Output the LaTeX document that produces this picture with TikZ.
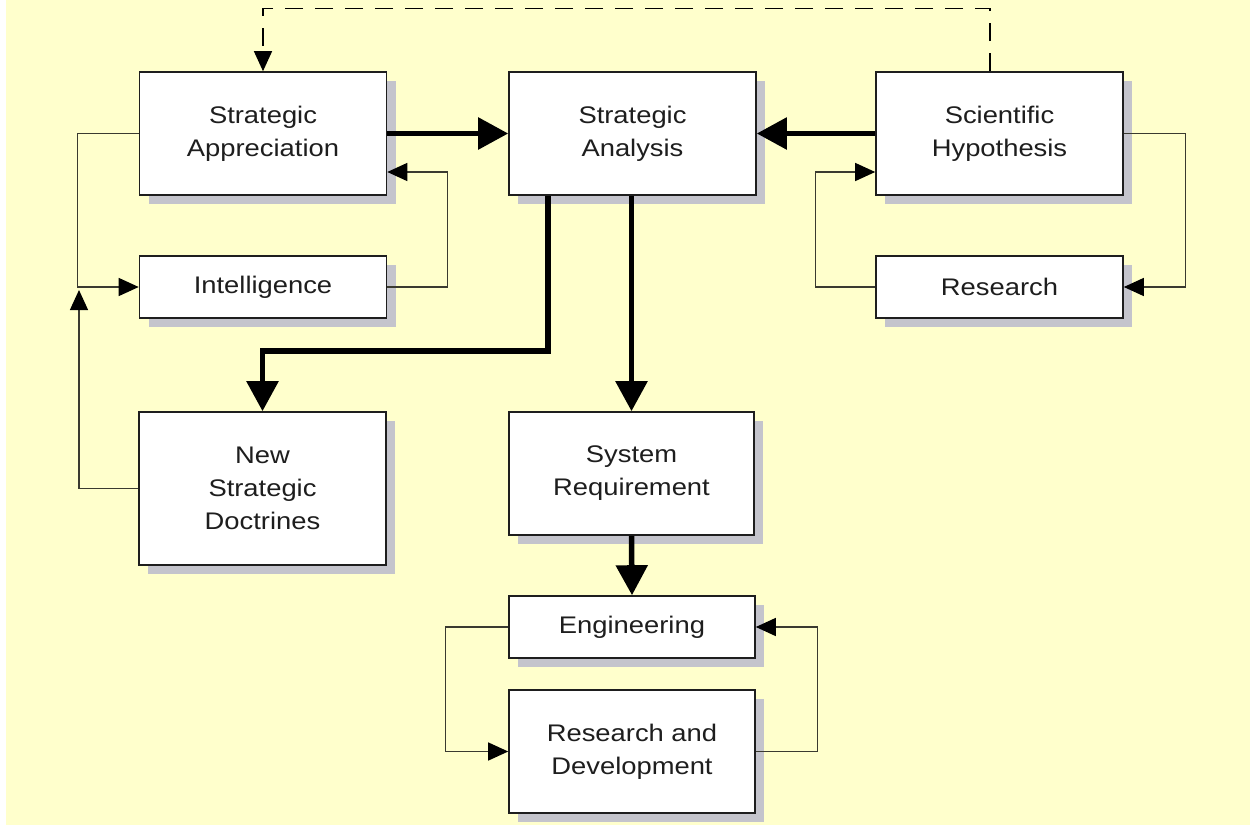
\documentclass[tikz,border=0pt]{standalone}
\usepackage{fontspec}
\setmainfont[FakeStretch=1.14]{Liberation Sans}
\usetikzlibrary{arrows.meta,shadows}

\definecolor{paper}{HTML}{FFFFCC}
\definecolor{shade}{HTML}{C4C4CC}
\definecolor{ink}{HTML}{1E1E1E}
\definecolor{wire}{HTML}{3A3A30}

\tikzset{
  box/.style={draw=ink, line width=1.6pt, fill=white, inner sep=0pt,
    align=center, text=ink, font=\fontsize{24}{33}\selectfont,
    drop shadow={shadow xshift=9pt, shadow yshift=-9pt, fill=shade, opacity=1}},
  tall/.style={box, minimum width=247pt, minimum height=123pt},
  flat/.style={box, minimum width=247pt, minimum height=62pt},
  heavy/.style={draw=black, line width=5.5pt,
    -{Triangle[length=30pt,width=31pt]}},
  light/.style={draw=wire, line width=1.3pt,
    -{Triangle[length=20pt,width=18pt,color=black]}},
  dashlink/.style={light, draw=black, dash pattern=on 18pt off 12pt}
}

\begin{document}
\begin{tikzpicture}[x=1pt,y=-1pt]
  % page and its background
  \useasboundingbox (0,0) rectangle (1250,825);
  \fill[white] (0,0) rectangle (1250,825);
  \fill[paper] (6,0) rectangle (1250,825);

  % boxes
  \node[tall] (sa)    at (263,133.5)   {Strategic\\Appreciation};
  \node[flat] (intel) at (263,287)     {Intelligence};
  \node[tall] (san)   at (632.5,133.5) {Strategic\\Analysis};
  \node[tall] (sh)    at (999.5,133.5) {Scientific\\Hypothesis};
  \node[flat] (res)   at (999.5,287)   {Research};
  \node[tall, minimum height=153pt] (nsd) at (262.5,488.5) {New\\Strategic\\Doctrines};
  \node[tall, minimum width=245pt] (sr) at (631.5,473.5) {System\\Requirement};
  \node[flat, minimum width=246pt] (eng) at (632,627) {Engineering};
  \node[tall, minimum width=246pt] (rd)  at (632,751.5) {Research and\\Development};

  % main flow
  \draw[heavy] (sa.east) -- (san.west);
  \draw[heavy] (sh.west) -- (san.east);
  \draw[heavy] ([xshift=-84.5pt]san.south) -- ++(0,155) -| (nsd.north);
  \draw[heavy] (san.south -| sr.north) -- (sr.north);
  \draw[heavy] (sr.south) -- (eng.north);

  % feedback from the hypothesis back to the appreciation
  \draw[dashlink] ([xshift=-9.5pt]sh.north) -- ++(0,-63) -| (sa.north);

  % appreciation / intelligence loop
  \draw[light] (sa.west) -- ++(-61,0) |- (intel.west);
  \draw[light] (intel.east) -- ++(60,0) |- (sa.east |- 0,172);
  \coordinate (join) at (79,290);
  \draw[light] (nsd.west) -| (join);

  % hypothesis / research loop
  \draw[light] (sh.east) -- ++(62,0) |- (res.east);
  \draw[light] (res.west) -- ++(-60,0) |- (sh.west |- 0,172);

  % engineering / development loop
  \draw[light] (eng.west) -- ++(-63,0) |- (rd.west);
  \draw[light] (rd.east) -- ++(62,0) |- (eng.east);
\end{tikzpicture}
\end{document}
